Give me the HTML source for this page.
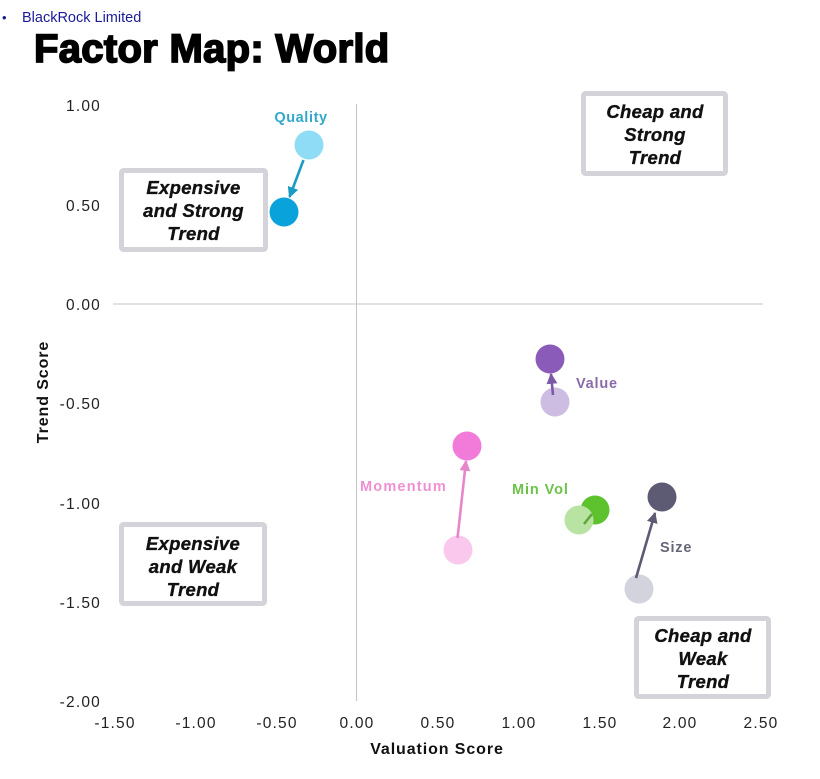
<!DOCTYPE html>
<html>
<head>
<meta charset="utf-8">
<style>
  html, body { margin: 0; padding: 0; background: #ffffff; }
  body { width: 820px; height: 779px; overflow: hidden; }
  svg { display: block; }
</style>
</head>
<body>
<svg width="820" height="779" viewBox="0 0 820 779" xmlns="http://www.w3.org/2000/svg">
  <defs>
    <marker id="aq" viewBox="0 0 10 10" refX="9" refY="5" markerWidth="4.2" markerHeight="4.2" orient="auto" markerUnits="strokeWidth"><path d="M0,0 L10,5 L0,10 z" fill="#1a9cc4"/></marker>
    <marker id="av" viewBox="0 0 10 10" refX="9" refY="5" markerWidth="4.2" markerHeight="4.2" orient="auto" markerUnits="strokeWidth"><path d="M0,0 L10,5 L0,10 z" fill="#7d58a6"/></marker>
    <marker id="am" viewBox="0 0 10 10" refX="9" refY="5" markerWidth="4.2" markerHeight="4.2" orient="auto" markerUnits="strokeWidth"><path d="M0,0 L10,5 L0,10 z" fill="#e687cc"/></marker>
    <marker id="as" viewBox="0 0 10 10" refX="9" refY="5" markerWidth="4.2" markerHeight="4.2" orient="auto" markerUnits="strokeWidth"><path d="M0,0 L10,5 L0,10 z" fill="#5d5b73"/></marker>
  </defs>

  <!-- header -->
  <text x="2" y="22" font-family="Liberation Sans, sans-serif" font-size="13" fill="#1a1a8c">•</text>
  <text x="22" y="22" font-family="Liberation Sans, sans-serif" font-size="14.5" fill="#1a1a9a">BlackRock Limited</text>
  <text x="34" y="62" font-family="Liberation Sans, sans-serif" font-size="40" font-weight="bold" fill="#000" stroke="#000" stroke-width="1.7" letter-spacing="0.3">Factor Map: World</text>

  <!-- axes -->
  <line x1="113" y1="304" x2="763" y2="304" stroke="#c4c4c4" stroke-width="1"/>
  <line x1="356.5" y1="104" x2="356.5" y2="701" stroke="#c4c4c4" stroke-width="1"/>

  <!-- y tick labels -->
  <g font-family="Liberation Sans, sans-serif" font-size="15.5" fill="#222" text-anchor="end" letter-spacing="1.2">
    <text x="101" y="111">1.00</text>
    <text x="101" y="211">0.50</text>
    <text x="101" y="310">0.00</text>
    <text x="101" y="409">-0.50</text>
    <text x="101" y="509">-1.00</text>
    <text x="101" y="608">-1.50</text>
    <text x="101" y="707">-2.00</text>
  </g>

  <!-- x tick labels -->
  <g font-family="Liberation Sans, sans-serif" font-size="15.5" fill="#222" text-anchor="middle" letter-spacing="1.2">
    <text x="115" y="728">-1.50</text>
    <text x="196" y="728">-1.00</text>
    <text x="277" y="728">-0.50</text>
    <text x="357" y="728">0.00</text>
    <text x="438" y="728">0.50</text>
    <text x="519" y="728">1.00</text>
    <text x="600" y="728">1.50</text>
    <text x="680" y="728">2.00</text>
    <text x="761" y="728">2.50</text>
  </g>

  <!-- axis titles -->
  <text x="437" y="754" font-family="Liberation Sans, sans-serif" font-size="16" font-weight="bold" fill="#111" text-anchor="middle" letter-spacing="0.9">Valuation Score</text>
  <text transform="translate(48,392) rotate(-90)" font-family="Liberation Sans, sans-serif" font-size="16" font-weight="bold" fill="#111" text-anchor="middle" letter-spacing="0.9">Trend Score</text>

  <!-- quadrant boxes -->
  <g fill="#ffffff" stroke="#d3d3d9" stroke-width="5">
    <rect x="121.5" y="170.5" width="144" height="79" rx="2"/>
    <rect x="583.5" y="93.5" width="142" height="80" rx="2"/>
    <rect x="121.5" y="524.5" width="143" height="79" rx="2"/>
    <rect x="636.5" y="618.5" width="132" height="78" rx="2"/>
  </g>
  <g font-family="Liberation Sans, sans-serif" font-size="18.5" font-weight="bold" font-style="italic" fill="#111" stroke="#111" stroke-width="0.35" text-anchor="middle" letter-spacing="0.3">
    <text x="193.5" y="194">Expensive</text>
    <text x="193.5" y="217">and Strong</text>
    <text x="193.5" y="240">Trend</text>

    <text x="655" y="118">Cheap and</text>
    <text x="655" y="141">Strong</text>
    <text x="655" y="164">Trend</text>

    <text x="193" y="550">Expensive</text>
    <text x="193" y="573">and Weak</text>
    <text x="193" y="596">Trend</text>

    <text x="703" y="642">Cheap and</text>
    <text x="703" y="665">Weak</text>
    <text x="703" y="688">Trend</text>
  </g>

  <!-- Quality -->
  <circle cx="309" cy="145" r="14.5" fill="#8fdcf6"/>
  <circle cx="284" cy="212" r="14.5" fill="#0aa2da"/>
  <line x1="303.5" y1="160" x2="289.5" y2="197" stroke="#1a9cc4" stroke-width="2.6" marker-end="url(#aq)"/>
  <text x="301" y="122" font-family="Liberation Sans, sans-serif" font-size="14.5" font-weight="bold" fill="#33a8c9" text-anchor="middle" letter-spacing="0.6">Quality</text>

  <!-- Value -->
  <circle cx="550" cy="359" r="14.5" fill="#8a5bb8"/>
  <circle cx="555" cy="402" r="14.5" fill="#cdbde3"/>
  <line x1="553" y1="395" x2="551" y2="374" stroke="#7d58a6" stroke-width="2.6" marker-end="url(#av)"/>
  <text x="576" y="388" font-family="Liberation Sans, sans-serif" font-size="14.5" font-weight="bold" fill="#8b6aab" letter-spacing="0.8">Value</text>

  <!-- Momentum -->
  <circle cx="467" cy="446" r="14.5" fill="#f27bd9"/>
  <circle cx="458" cy="550" r="14.5" fill="#f9c8ec"/>
  <line x1="457.5" y1="538" x2="466" y2="461" stroke="#e687cc" stroke-width="2.6" marker-end="url(#am)"/>
  <text x="360" y="491" font-family="Liberation Sans, sans-serif" font-size="14.5" font-weight="bold" fill="#ee90d2" letter-spacing="1.2">Momentum</text>

  <!-- Min Vol -->
  <circle cx="595" cy="510" r="14.5" fill="#5ec22e"/>
  <circle cx="579" cy="520" r="14.5" fill="#b9e3a3"/>
  <line x1="584" y1="524" x2="592" y2="514" stroke="#5ca83a" stroke-width="2.6"/>
  <text x="512" y="494" font-family="Liberation Sans, sans-serif" font-size="14.5" font-weight="bold" fill="#6cc24a" letter-spacing="0.9">Min Vol</text>

  <!-- Size -->
  <circle cx="662" cy="497" r="14.5" fill="#5d5b73"/>
  <circle cx="639" cy="589" r="14.5" fill="#d3d3de"/>
  <line x1="636" y1="578" x2="655" y2="513" stroke="#5d5b73" stroke-width="2.6" marker-end="url(#as)"/>
  <text x="660" y="552" font-family="Liberation Sans, sans-serif" font-size="14.5" font-weight="bold" fill="#666677" letter-spacing="0.8">Size</text>
</svg>
</body>
</html>
